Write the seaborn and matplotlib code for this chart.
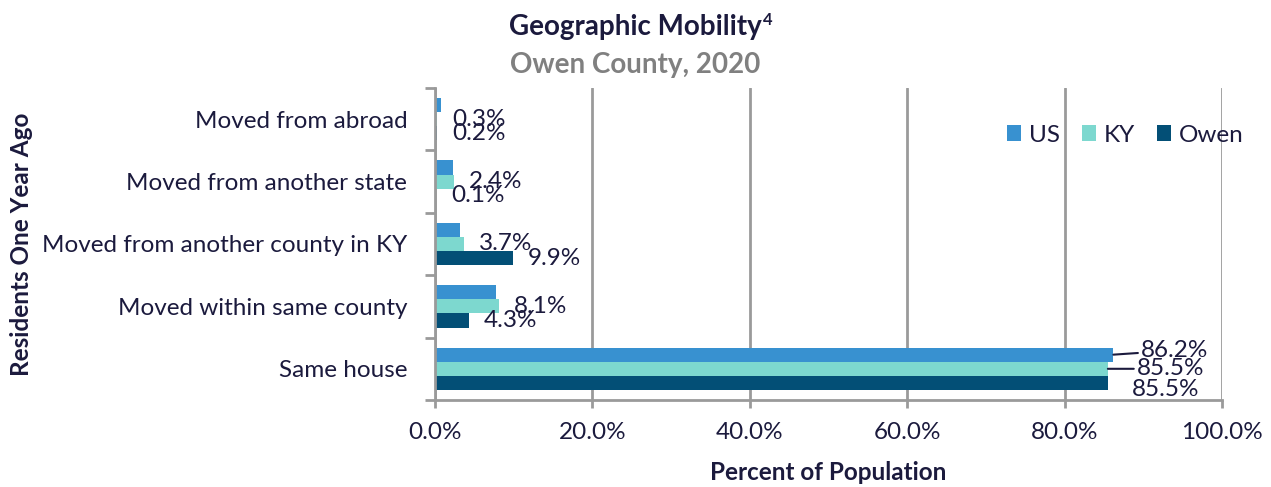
import pandas as pd
import matplotlib
matplotlib.use("Agg")
import matplotlib.pyplot as plt
from matplotlib.ticker import FixedLocator, PercentFormatter
import seaborn as sns

CATEGORIES = ["Moved from abroad", "Moved from another state", "Moved from another county in KY",
              "Moved within same county", "Same house"]
SERIES = ["US", "KY", "Owen"]
US_VALS = [0.7, 2.3, 3.2, 7.7, 86.2]
KY_VALS = [0.3, 2.4, 3.7, 8.1, 85.5]
OWEN_VALS = [0.2, 0.1, 9.9, 4.3, 85.5]
COLORS = {"US": "#3891d0", "KY": "#7dd8cf", "Owen": "#034f76"}

TEXT = "#1b1a3d"
GRID = "#9a9a9a"
FS = 17.5

df = pd.DataFrame({
    "category": CATEGORIES * 3,
    "series": [s for s in SERIES for _ in CATEGORIES],
    "value": US_VALS + KY_VALS + OWEN_VALS,
})

sns.set_theme(style="white")
plt.rcParams["font.family"] = ["Lato", "DejaVu Sans"]

fig = plt.figure(figsize=(12.71, 4.87), dpi=100)
ax = fig.add_axes([435 / 1271, 1 - 400 / 487, 787 / 1271, 312 / 487])

sns.barplot(data=df, x="value", y="category", hue="series", order=CATEGORIES,
            hue_order=SERIES, palette=COLORS, saturation=1, orient="h", width=0.68, gap=0,
            linewidth=0, ax=ax, zorder=3)

ax.set_xlim(0, 100)
ax.set_ylim(4.5, -0.5)
ax.xaxis.set_major_locator(FixedLocator([0, 20, 40, 60, 80, 100]))
ax.xaxis.set_major_formatter(PercentFormatter(decimals=1))
ax.grid(axis="x", color=GRID, linewidth=2, zorder=0)
ax.grid(axis="y", visible=False)
for side in ["top", "right"]:
    ax.spines[side].set_visible(False)
for side in ["left", "bottom"]:
    ax.spines[side].set_color(GRID)
    ax.spines[side].set_linewidth(2)
    ax.spines[side].set_zorder(4)

ax.tick_params(axis="x", length=6, width=2, color=GRID, pad=10, labelsize=FS, labelcolor=TEXT, bottom=True)
ax.tick_params(axis="y", which="major", length=0, pad=20, labelsize=FS, labelcolor=TEXT)
ax.set_yticks([i - 0.5 for i in range(len(CATEGORIES) + 1)], minor=True)
ax.tick_params(axis="y", which="minor", length=7, width=2, color=GRID, left=True)

ax.set_xlabel("")
ax.set_ylabel("")
fig.text(828 / 1271, 1 - 473 / 487, "Percent of Population", ha="center", va="center",
         fontsize=FS, fontweight="bold", color=TEXT)
fig.text(22 / 1271, 1 - 244 / 487, "Residents One Year Ago", ha="center", va="center",
         rotation=90, fontsize=FS, fontweight="bold", color=TEXT)

# data labels: KY and Owen for the small categories, annotated leaders for "Same house"
us_c, ky_c, owen_c = ax.containers[:3]
last = len(CATEGORIES) - 1
for cont, vals in [(ky_c, KY_VALS), (owen_c, OWEN_VALS)]:
    labels = [f"{v:.1f}%" for v in vals[:last]] + [""]
    ax.bar_label(cont, labels=labels, padding=11, fontsize=FS, color=TEXT)

same = [(us_c, US_VALS[last], (20, 3)), (ky_c, KY_VALS[last], (21, 0)), (owen_c, OWEN_VALS[last], (17, -5))]
for cont, val, off in same:
    bar = cont.patches[last]
    yc = bar.get_y() + bar.get_height() / 2
    ax.annotate(f"{val:.1f}%", xy=(val, yc), xytext=off, textcoords="offset points",
                ha="left", va="center", fontsize=FS, color=TEXT,
                arrowprops=dict(arrowstyle="-", color=TEXT, lw=1.5, shrinkA=0, shrinkB=0)
                if off[1] >= 0 else None)

leg = ax.legend(ncol=3, frameon=False, loc="center", bbox_to_anchor=(1125 / 1271, 1 - 135 / 487),
                bbox_transform=fig.transFigure, fontsize=FS, handlelength=0.6, handleheight=0.6,
                handletextpad=0.3, columnspacing=0.9)
for t in leg.get_texts():
    t.set_color(TEXT)

title = fig.text(0.5, 1 - 27 / 487, "Geographic Mobility", ha="center", va="center",
                 fontsize=20, fontweight="bold", color=TEXT)
fig.canvas.draw()
bb = title.get_window_extent()
fig.text(bb.x1 / 1271 + 0.001, 1 - 12 / 487, "4", ha="left", va="top",
         fontsize=12, fontweight="bold", color=TEXT)
fig.text(0.5, 1 - 65 / 487, "Owen County, 2020", ha="center", va="center",
         fontsize=20, fontweight="bold", color="#808080")

fig.savefig("out.png", dpi=100)
